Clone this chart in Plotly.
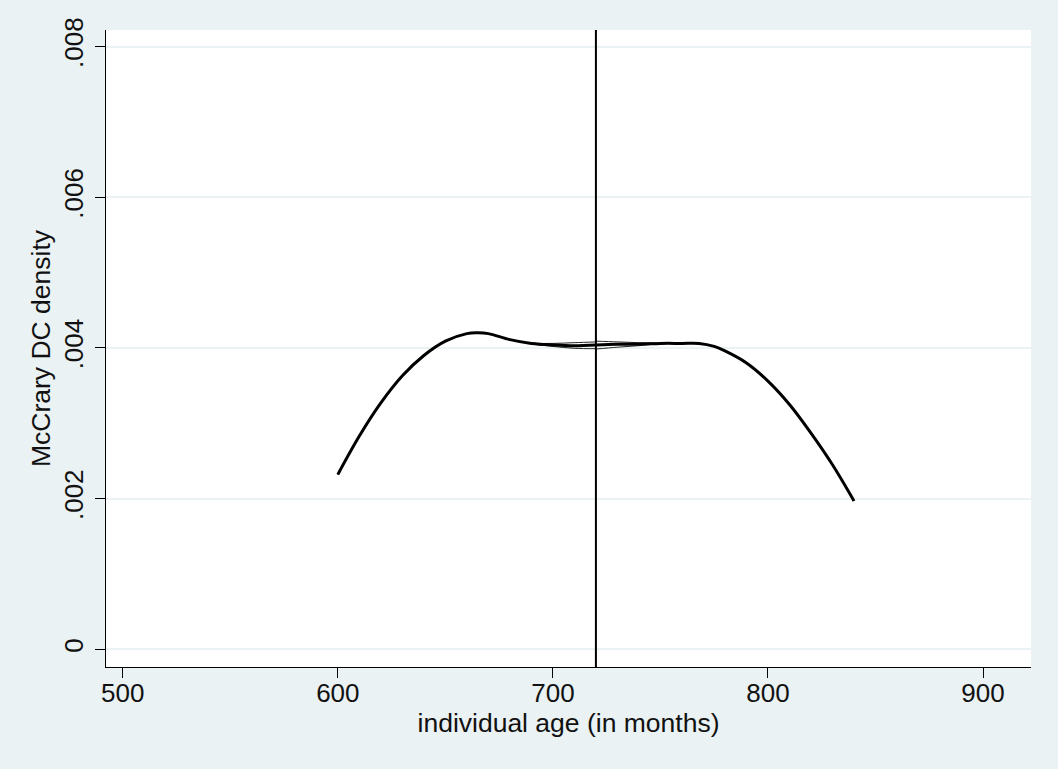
import plotly.graph_objects as go

# ---- data ----
left_x = [600, 610, 620, 630, 640, 650, 660, 665, 670, 680, 690, 700, 710, 720]
left_y = [0.00232, 0.00283, 0.00327, 0.00363, 0.00390, 0.00409, 0.00419, 0.00420,
          0.00419, 0.00411, 0.00406, 0.00404, 0.00403, 0.00404]
left_hi = [0.00232, 0.00283, 0.00327, 0.00363, 0.00390, 0.00409, 0.00419, 0.00420,
           0.00419, 0.00411, 0.004065, 0.00406, 0.00407, 0.00408]
left_lo = [0.00232, 0.00283, 0.00327, 0.00363, 0.00390, 0.00409, 0.00419, 0.00420,
           0.00419, 0.00411, 0.004055, 0.00402, 0.003995, 0.00399]

right_x = [720, 730, 740, 750, 760, 768, 775, 780, 790, 800, 810, 820, 830, 840]
right_y = [0.00404, 0.00405, 0.00405, 0.00406, 0.00406, 0.00406, 0.00402, 0.00396,
           0.00380, 0.00356, 0.00325, 0.00287, 0.00245, 0.00197]
right_hi = [0.00409, 0.00408, 0.00407, 0.004065, 0.00406, 0.00406, 0.00402, 0.00396,
            0.00380, 0.00356, 0.00325, 0.00287, 0.00245, 0.00197]
right_lo = [0.003985, 0.00401, 0.00403, 0.004055, 0.00406, 0.00406, 0.00402, 0.00396,
            0.00380, 0.00356, 0.00325, 0.00287, 0.00245, 0.00197]

cutoff = 720

x_ticks = [500, 600, 700, 800, 900]
y_ticks = [0, 0.002, 0.004, 0.006, 0.008]
y_tick_labels = ["0", ".002", ".004", ".006", ".008"]

x_range = [492.2, 922.3]
y_range = [-0.000235, 0.00822]

BG = "#eaf2f3"
FONT = "Liberation Sans, Arial, sans-serif"

fig = go.Figure()

for xs, ys in [(left_x, left_hi), (left_x, left_lo), (right_x, right_hi), (right_x, right_lo)]:
    fig.add_trace(go.Scatter(x=xs, y=ys, mode="lines",
                             line=dict(color="#222222", width=1, shape="spline", smoothing=1),
                             showlegend=False, hoverinfo="skip"))

for xs, ys in [(left_x, left_y), (right_x, right_y)]:
    fig.add_trace(go.Scatter(x=xs, y=ys, mode="lines",
                             line=dict(color="black", width=3, shape="spline", smoothing=1),
                             showlegend=False))

fig.add_vline(x=cutoff, line=dict(color="black", width=2))

fig.update_layout(
    width=1058, height=769,
    paper_bgcolor=BG, plot_bgcolor="white",
    margin=dict(l=106, r=27, t=30, b=102),
    font=dict(family=FONT, size=26, color="#111111"),
    showlegend=False,
)

fig.update_xaxes(
    range=x_range, tickvals=x_ticks, ticks="outside", ticklen=10, tickwidth=1,
    tickcolor="black", showline=True, linecolor="black", linewidth=1,
    showgrid=False, zeroline=False, ticklabelstandoff=-7,
    tickfont=dict(size=26, family=FONT),
    title=dict(text="individual age (in months)", font=dict(size=26.5, family=FONT), standoff=0),
)
fig.update_yaxes(
    range=y_range, tickvals=y_ticks, ticktext=y_tick_labels, tickangle=-90,
    ticks="outside", ticklen=10, tickwidth=1, tickcolor="black",
    showline=True, linecolor="black", linewidth=1,
    showgrid=True, gridcolor=BG, gridwidth=2, zeroline=False, ticklabelstandoff=2,
    tickfont=dict(size=26, family=FONT),
    title=dict(text="McCrary DC density", font=dict(size=26.5, family=FONT), standoff=0),
)

fig.write_html("out.html")
